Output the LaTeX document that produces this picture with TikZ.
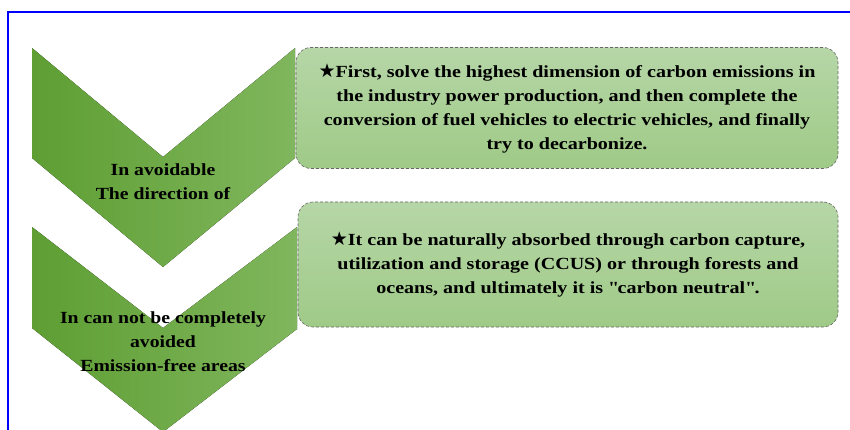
\documentclass[tikz,border=0pt]{standalone}
\usepackage{fontspec}
\setmainfont{Liberation Serif}
\newfontfamily\symfont{DejaVu Sans}
\newfontfamily\widefont[FakeStretch=1.16]{Liberation Serif}
\newfontfamily\notefont[FakeStretch=1.18]{Liberation Serif}

\definecolor{chevL}{HTML}{5E9E33}
\definecolor{chevR}{HTML}{80B65D}
\definecolor{noteT}{HTML}{B6D6A7}
\definecolor{noteB}{HTML}{9FCA87}
\definecolor{frameblue}{HTML}{0000FF}

\newcommand{\starmark}{{\symfont\fontsize{19}{19}\selectfont ★}}

\tikzset{
  chevron/.style={left color=chevL, right color=chevR},
  chevtext/.style={font=\widefont\bfseries\fontsize{17}{24}\selectfont, align=center},
  note/.style={rounded corners=15pt, top color=noteT, bottom color=noteB,
    draw=black!60, densely dashed, line width=0.6pt, inner sep=0pt,
    font=\notefont\bfseries\fontsize{17}{24}\selectfont, align=center}
}

\begin{document}
\begin{tikzpicture}[x=1pt,y=-1pt]
\useasboundingbox (0,0) rectangle (850,430);

% frame
\draw[frameblue, line width=1.5pt] (8,430) -- (8,12) -- (850,12);

% chevrons
\begin{scope}
\clip (0,0) rectangle (850,430);
\fill[chevron] (32,48) -- (163,157) -- (295,48) -- (295,158) -- (163,267) -- (32,158) -- cycle;
\fill[chevron] (32,227) -- (163,328) -- (297,227) -- (297,329) -- (163,432) -- (32,328) -- cycle;
\end{scope}

\node[chevtext] (avoid) at (163,182) {In avoidable\\The direction of};
\node[chevtext] (unavoid) at (163,342) {In can not be completely\\avoided\\Emission-free areas};

% notes
\node[note, minimum width=542pt, minimum height=121pt] (first) at (567,108)
  {\starmark First, solve the highest dimension of carbon emissions in\\
   the industry power production, and then complete the\\
   conversion of fuel vehicles to electric vehicles, and finally\\
   try to decarbonize.};
\node[note, minimum width=540pt, minimum height=125pt] (absorb) at (568,264.5)
  {\starmark It can be naturally absorbed through carbon capture,\\
   utilization and storage (CCUS) or through forests and\\
   oceans, and ultimately it is \textquotedbl carbon neutral\textquotedbl.};

\end{tikzpicture}
\end{document}
